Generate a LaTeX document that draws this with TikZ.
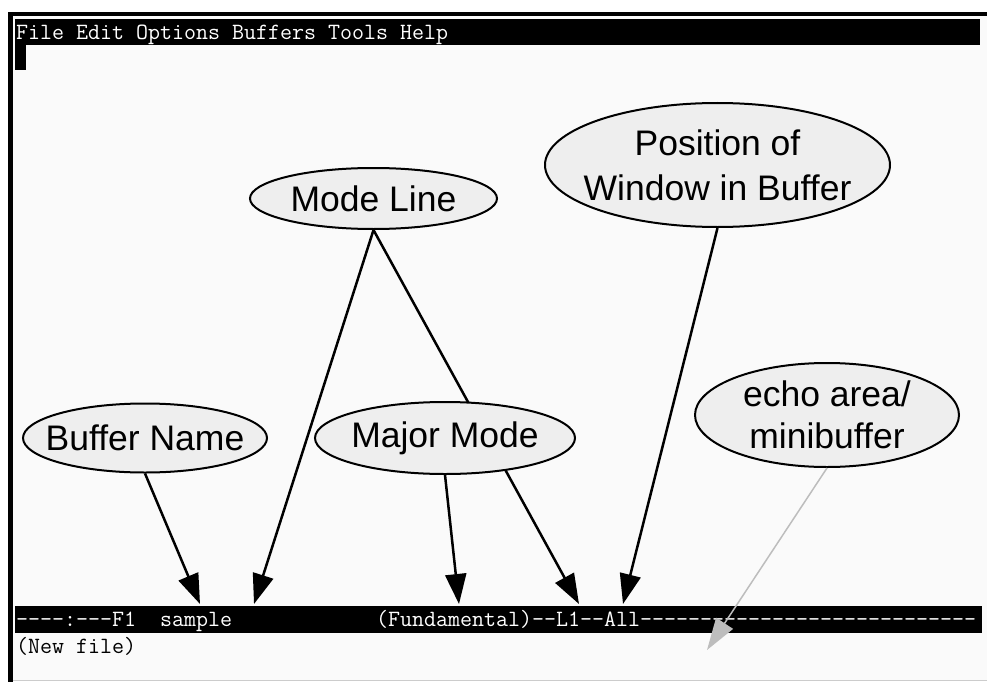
\documentclass[tikz,border=0pt]{standalone}
\usepackage{fontspec}
\setmainfont{Liberation Sans}
\usetikzlibrary{shapes.geometric, arrows.meta, positioning}
\definecolor{PaleGray}{HTML}{EEEEEE}
\definecolor{Paper}{HTML}{FAFAFA}
\definecolor{EchoGray}{HTML}{BDBDBD}

\begin{document}
\begin{tikzpicture}[
    x=1pt, y=-1pt,
    callout/.style={ellipse, draw=black, line width=2pt, fill=PaleGray, inner xsep=-60pt, inner ysep=-20pt, align=center, font=\fontsize{35.5}{45}\selectfont},
    arrow/.style={-{Triangle[length=30pt, width=21pt]}, line width=2.5pt},
    echoarrow/.style={-{Triangle[length=32pt, width=20pt]}, line width=1.5pt, EchoGray},
    term/.style={inner sep=0pt, anchor=base west, font=\ttfamily\fontsize{23.3}{27}\selectfont},
    bar/.style={fill=black}
  ]
  \useasboundingbox (0,0) rectangle (987,682);
  \fill[white] (0,0) rectangle (987,682);
  \fill[Paper] (13,16) rectangle (987,680);

  % window frame
  \fill[black] (8,12) rectangle (987,16);
  \fill[black] (8,12) rectangle (13,682);
  \draw[gray!40, line width=1pt] (13,680.5) -- (987,680.5);

  % menu bar, cursor and mode line
  \fill[bar] (15,19) rectangle (980,45);
  \fill[bar] (15,45) rectangle (26,70);
  \fill[bar] (15,606) rectangle (982,633);
  \node[term, text=white] (menutext) at (16,40) {File Edit Options Buffers Tools Help};
  \node[term, text=white] (statustext) at (16,626) {----:---F1~~sample~~~~~~~~~~~~(Fundamental)--L1--All----------------------------};
  \node[term] (newfile) at (16,653) {(New file)};

  % arrow ends on the mode line
  \coordinate (nametip) at (200,604);
  \coordinate (bufendtip) at (254,604);
  \coordinate (modetip) at (459,604);
  \coordinate (linetip) at (579,604);
  \coordinate (postip) at (623,604);
  \coordinate (echotip) at (707,650);

  \node[callout, minimum width=247pt, minimum height=61pt] (modelabel) at (373.5,198.5) {Mode Line};
  \draw [arrow] (modelabel.south) -- (bufendtip);
  \draw [arrow] (modelabel.south) -- (linetip);

  \node[callout, minimum width=260pt, minimum height=72pt] (majormode) at (445,438) {Major Mode};
  \draw [arrow] (majormode.south) -- (modetip);

  \node[callout, minimum width=244pt, minimum height=69pt] (bufname) at (145,438) {Buffer Name};
  \draw [arrow] (bufname.south) -- (nametip);

  \node[callout, minimum width=345pt, minimum height=124pt] (winpos) at (717.5,165) {Position of\\Window in Buffer};
  \draw [arrow] (winpos.south) -- (postip);

  \node[callout, minimum width=264pt, minimum height=104pt, font=\fontsize{35.5}{42}\selectfont] (echoarea) at (827,415) {echo area/\\minibuffer};
  \draw [echoarrow] (echoarea.south) -- (echotip);
\end{tikzpicture}
\end{document}
